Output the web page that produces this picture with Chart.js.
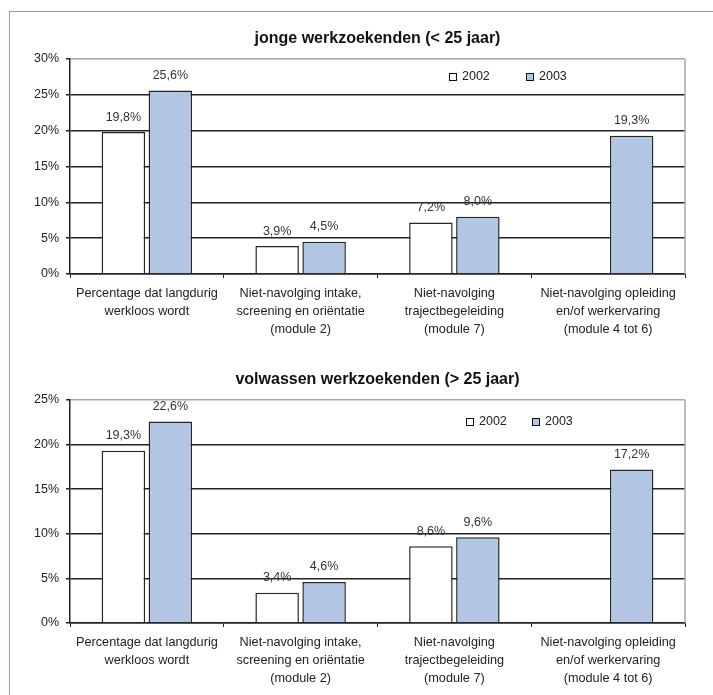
<!DOCTYPE html>
<html>
<head>
<meta charset="utf-8">
<script src="https://cdn.jsdelivr.net/npm/chart.js@4.4.1/dist/chart.umd.min.js"></script>
<style>
  html, body { margin: 0; padding: 0; background: #fff; }
  body { width: 713px; height: 695px; position: relative; overflow: hidden; }
  .frame { position: absolute; left: 9px; top: 11px; width: 900px; height: 900px;
           border-left: 1px solid #7ea2d6; border-top: 1px solid #7ea2d6; }
  canvas { position: absolute; left: 0; }
  #c1 { top: 0; }
  #c2 { top: 341px; }
</style>
</head>
<body>
<div class="frame"></div>
<canvas id="c1" width="713" height="344"></canvas>
<canvas id="c2" width="713" height="354"></canvas>
<script>
// Categories shared by both panels (multi-line axis labels)
const categories = [
  ['Percentage dat langdurig', 'werkloos wordt'],
  ['Niet-navolging intake,', 'screening en oriëntatie', '(module 2)'],
  ['Niet-navolging', 'trajectbegeleiding', '(module 7)'],
  ['Niet-navolging opleiding', 'en/of werkervaring', '(module 4 tot 6)']
];
const seriesNames = ['2002', '2003'];

// Young job seekers (< 25)
const youthTitle = 'jonge werkzoekenden (< 25 jaar)';
const youth2002 = [19.8, 3.9, 7.2, null];
const youth2003 = [25.6, 4.5, 8.0, 19.3];
const youthTicks = [0, 5, 10, 15, 20, 25, 30];

// Adult job seekers (> 25)
const adultTitle = 'volwassen werkzoekenden (> 25 jaar)';
const adult2002 = [19.3, 3.4, 8.6, null];
const adult2003 = [22.6, 4.6, 9.6, 17.2];
const adultTicks = [0, 5, 10, 15, 20, 25];

const FONT = "Arial, 'Liberation Sans', Helvetica, sans-serif";
const fillColors = ['#ffffff', '#b2c5e2'];

const fmt = v => v.toFixed(1).replace('.', ',') + '%';

// Value labels above each bar
const valueLabels = {
  id: 'valueLabels',
  afterDatasetsDraw(chart) {
    const ctx = chart.ctx;
    ctx.save();
    ctx.font = '12.5px ' + FONT;
    ctx.fillStyle = '#333';
    ctx.textAlign = 'center';
    ctx.textBaseline = 'middle';
    chart.data.datasets.forEach((ds, i) => {
      chart.getDatasetMeta(i).data.forEach((bar, j) => {
        const v = ds.data[j];
        if (v === null || v === undefined) return;
        ctx.fillText(fmt(v), bar.x, bar.y - 15);
      });
    });
    ctx.restore();
  }
};

// Title centred over the plot, grey right edge of the plot, inline legend
const frameAndLegend = {
  id: 'frameAndLegend',
  beforeDatasetsDraw(chart) {
    const {ctx, chartArea} = chart;
    ctx.save();
    ctx.strokeStyle = '#a6a6a6';
    ctx.lineWidth = 1.5;
    ctx.beginPath();
    ctx.moveTo(chartArea.right, chartArea.top);
    ctx.lineTo(chartArea.right, chartArea.bottom);
    ctx.stroke();
    ctx.restore();
  },
  afterDraw(chart, args, opts) {
    const {ctx, chartArea} = chart;
    ctx.save();
    ctx.font = 'bold 16px ' + FONT;
    ctx.fillStyle = '#111';
    ctx.textAlign = 'center';
    ctx.textBaseline = 'middle';
    ctx.fillText(opts.title, (chartArea.left + chartArea.right) / 2, chartArea.top - 20);

    const y = chart.scales.y;
    const ticks = y.ticks;
    const top = y.getPixelForValue(ticks[ticks.length - 1].value);
    const next = y.getPixelForValue(ticks[ticks.length - 2].value);
    const cy = Math.round((top + next) / 2);
    ctx.font = '12.5px ' + FONT;
    ctx.textAlign = 'left';
    chart.data.datasets.forEach((ds, i) => {
      const x = opts.xs[i];
      ctx.fillStyle = ds.backgroundColor;
      ctx.fillRect(x + 0.5, cy - 3.5, 7, 7);
      ctx.strokeStyle = '#111';
      ctx.lineWidth = 1;
      ctx.strokeRect(x + 0.5, cy - 3.5, 7, 7);
      ctx.fillStyle = '#222';
      ctx.fillText(ds.label, x + 13, cy);
    });
    ctx.restore();
  }
};

function makeChart(id, title, a, b, tickValues, legendXs, plotBottom) {
  const maxV = tickValues[tickValues.length - 1];
  return new Chart(document.getElementById(id), {
    type: 'bar',
    data: {
      labels: categories,
      datasets: [a, b].map((d, i) => ({
        label: seriesNames[i],
        data: d,
        backgroundColor: fillColors[i],
        borderColor: '#262626',
        borderWidth: 1.5,
        categoryPercentage: 0.611,
        barPercentage: 0.926
      }))
    },
    options: {
      responsive: false,
      animation: false,
      layout: { padding: { left: 0, right: 28, top: 59, bottom: 0 } },
      plugins: {
        legend: { display: false },
        tooltip: { enabled: false },
        title: { display: false },
        frameAndLegend: { xs: legendXs, title: title }
      },
      scales: {
        x: {
          grid: { drawOnChartArea: false, drawTicks: true, tickLength: 4, color: '#222', offset: true },
          border: { color: '#222', width: 1.5 },
          ticks: { color: '#222', padding: 6.6, font: { family: FONT, size: 12.7, lineHeight: 1.4 }, maxRotation: 0, autoSkip: false },
          afterFit(s) { s.height = s.chart.height - plotBottom; }
        },
        y: {
          min: 0,
          max: maxV,
          afterBuildTicks(s) { s.ticks = tickValues.map(v => ({ value: v })); },
          grid: {
            color: ctx => (ctx.tick && ctx.tick.value === maxV) ? '#a6a6a6' : '#222',
            lineWidth: 1.5,
            tickColor: '#222',
            tickLength: 4
          },
          border: { color: '#222', width: 1.5 },
          ticks: { color: '#222', padding: 7, font: { family: FONT, size: 12.5 }, callback: v => v + '%' },
          afterFit(s) { s.width = 70; }
        }
      }
    },
    plugins: [valueLabels, frameAndLegend]
  });
}

makeChart('c1', youthTitle, youth2002, youth2003, youthTicks, [449, 526], 274);
makeChart('c2', adultTitle, adult2002, adult2003, adultTicks, [466, 532], 282);
</script>
</body>
</html>
